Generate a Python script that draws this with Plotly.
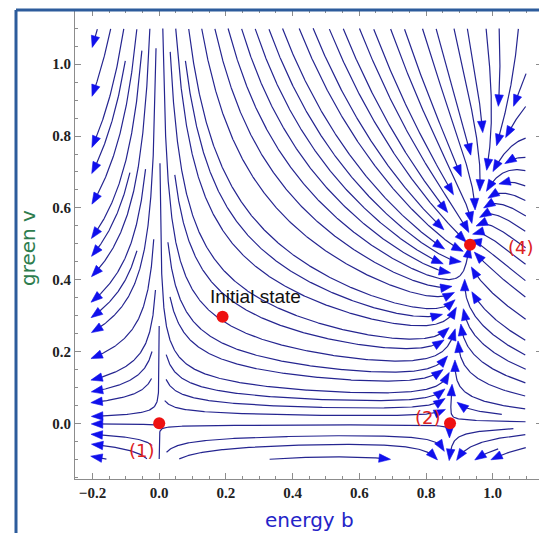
import math
import numpy as np
import plotly.graph_objects as go

# ---------------- data ----------------
b_domain = [-0.2, 1.1]          # extent of the stream field (energy b)
v_domain = [-0.1, 1.1]          # extent of the stream field (green v)
x_range = [-0.2525, 1.1478]
y_range = [-0.155, 1.151]
x_ticks = [-0.2, 0.0, 0.2, 0.4, 0.6, 0.8, 1.0]
y_ticks = [0.0, 0.2, 0.4, 0.6, 0.8, 1.0]

fixed_b = [0.0, 0.872, 0.932]   # equilibria (1), (2), (4)
fixed_v = [0.0, 0.0, 0.497]
fixed_labels = ["(1)", "(2)", "(4)"]
label_b = [-0.052, 0.806, 1.085]
label_v = [-0.077, 0.015, 0.491]

init_b = [0.19]
init_v = [0.297]
init_text = ["Initial state"]
init_label_b = [0.29]
init_label_v = [0.352]

green_nullcline_b0 = 0.6        # where the flow of v turns round on v = 0 (estimated)
green_rate = 0.45               # relative speed of v (estimated from slopes)
energy_nullcline_power = 1.3    # curvature of the energy nullcline (estimated)
energy_damping = 2.0            # slowing of energy at high b (estimated)

# ---------------- vector field built from the equilibria ----------------
K = fixed_b[1]
e_coef = (fixed_b[2] - K) / fixed_v[2] ** energy_nullcline_power
d_coef = green_rate * (fixed_b[2] - green_nullcline_b0) / fixed_v[2]


def field(b, v):
    vp = math.copysign(abs(v) ** energy_nullcline_power, v)
    db = b * (K - b + e_coef * vp) / (1.0 + energy_damping * b * b)
    dv = v * (green_rate * (b - green_nullcline_b0) - d_coef * v)
    return db, dv


# ---------------- evenly spaced streamlines (in screen-like units) ----------------
SX, SY = 333.4, 359.1
DSEP, DTEST, H = 13.0, 7.0, 1.0
X0, X1 = b_domain[0] * SX, b_domain[1] * SX
Y0, Y1 = v_domain[0] * SY, v_domain[1] * SY
FP = [(fb * SX, fv * SY) for fb, fv in zip(fixed_b, fixed_v)]

grid = {}


def key(X, Y):
    return (int((X - X0) // DSEP), int((Y - Y0) // DSEP))


def add_pt(X, Y):
    grid.setdefault(key(X, Y), []).append((X, Y))


def clear(X, Y, dmin):
    i, j = key(X, Y)
    d2 = dmin * dmin
    for di in (-1, 0, 1):
        for dj in (-1, 0, 1):
            for (px, py) in grid.get((i + di, j + dj), ()):
                if (px - X) ** 2 + (py - Y) ** 2 < d2:
                    return False
    return True


def inside(X, Y):
    return X0 <= X <= X1 and Y0 <= Y <= Y1


def near_fp(X, Y, r=3.0):
    for fx, fy in FP:
        if (fx - X) ** 2 + (fy - Y) ** 2 < r * r:
            return True
    return False


def direction(X, Y):
    db, dv = field(X / SX, Y / SY)
    u, w = db * SX, dv * SY
    n = math.hypot(u, w)
    if n < 1e-7:
        return None
    return u / n, w / n


def trace(X, Y, sign):
    pts = []
    for _ in range(4000):
        d1 = direction(X, Y)
        if d1 is None:
            break
        d2 = direction(X + sign * 0.5 * H * d1[0], Y + sign * 0.5 * H * d1[1])
        if d2 is None or d1[0] * d2[0] + d1[1] * d2[1] < 0.3:
            break
        Xn, Yn = X + sign * H * d2[0], Y + sign * H * d2[1]
        if not inside(Xn, Yn) or near_fp(Xn, Yn) or not clear(Xn, Yn, DTEST):
            break
        pts.append((Xn, Yn))
        X, Y = Xn, Yn
    return pts


lines = []


def make_line(X, Y):
    if not inside(X, Y) or near_fp(X, Y, 6.0) or not clear(X, Y, DSEP * 0.98):
        return None
    back = trace(X, Y, -1)
    fwd = trace(X, Y, 1)
    pts = back[::-1] + [(X, Y)] + fwd
    if len(pts) * H < 14:
        return None
    for p in pts:
        add_pt(*p)
    lines.append(pts)
    return pts


queue = []
first = make_line(0.5 * SX, 0.6 * SY)
if first:
    queue.append(first)
qi = 0
while True:
    while qi < len(queue):
        ln = queue[qi]
        qi += 1
        for k in range(1, len(ln) - 1, 2):
            dx = ln[k + 1][0] - ln[k - 1][0]
            dy = ln[k + 1][1] - ln[k - 1][1]
            n = math.hypot(dx, dy)
            if n == 0:
                continue
            nx, ny = -dy / n, dx / n
            for s in (1, -1):
                new = make_line(ln[k][0] + s * DSEP * nx, ln[k][1] + s * DSEP * ny)
                if new:
                    queue.append(new)
    added = False
    for gx in np.arange(X0 + 2, X1, DSEP / 2):
        for gy in np.arange(Y0 + 2, Y1, DSEP / 2):
            new = make_line(gx, gy)
            if new:
                queue.append(new)
                added = True
                break
        if added:
            break
    if not added:
        break

# polylines and arrowheads (converted back to data units)
lx, ly, ax, ay = [], [], [], []
AL, AW = 11.5, 8.5
for pts in lines:
    for (X, Y) in pts:
        lx.append(X / SX)
        ly.append(Y / SY)
    lx.append(None)
    ly.append(None)
    ex, ey = pts[-1]
    px, py = pts[max(0, len(pts) - 4)]
    tx, ty = ex - px, ey - py
    n = math.hypot(tx, ty)
    if n == 0:
        continue
    tx, ty = tx / n, ty / n
    tipx, tipy = ex + tx * 2, ey + ty * 2
    bx, by = tipx - tx * AL, tipy - ty * AL
    nx, ny = -ty, tx
    tri = [(tipx, tipy), (bx + nx * AW / 2, by + ny * AW / 2), (bx - nx * AW / 2, by - ny * AW / 2), (tipx, tipy)]
    for (X, Y) in tri:
        ax.append(X / SX)
        ay.append(Y / SY)
    ax.append(None)
    ay.append(None)

fig = go.Figure()
fig.add_trace(go.Scatter(x=lx, y=ly, mode="lines", line=dict(color="#252590", width=1.2),
                         hoverinfo="skip", showlegend=False))
fig.add_trace(go.Scatter(x=ax, y=ay, mode="lines", fill="toself", fillcolor="#1010ec",
                         line=dict(color="#1010ec", width=0.6), hoverinfo="skip", showlegend=False))
fig.add_trace(go.Scatter(x=fixed_b + init_b, y=fixed_v + init_v, mode="markers",
                         marker=dict(color="#ee1111", size=12), hoverinfo="skip", showlegend=False))

annotations = []
for t, bx_, vy_ in zip(fixed_labels, label_b, label_v):
    annotations.append(dict(x=bx_, y=vy_, xref="x", yref="y", text=t, showarrow=False,
                            xanchor="center", yanchor="middle",
                            font=dict(family="DejaVu Sans", size=18, color="#dd2222")))
for t, bx_, vy_ in zip(init_text, init_label_b, init_label_v):
    annotations.append(dict(x=bx_, y=vy_, xref="x", yref="y", text=t, showarrow=False,
                            xanchor="center", yanchor="middle",
                            font=dict(family="Liberation Sans", size=19, color="#111111")))

# layout geometry: the page body adds an 8 px offset, so the figure is 8 px smaller
OFF = 8
W, Hh = 547 - OFF, 533 - OFF
ml, mr, mt, mb = 75 - OFF, W - (542 - OFF), 10 - OFF, Hh - (479 - OFF)
pw, ph = W - ml - mr, Hh - mt - mb


def px2paper(px, py):
    # px, py are window pixels of the reference picture
    return (px - OFF - ml) / pw, (Hh - mb - (py - OFF)) / ph


tx_, ty_ = px2paper(309, 520)
annotations.append(dict(x=tx_, y=ty_, xref="paper", yref="paper", text="energy b", showarrow=False,
                        xanchor="center", yanchor="middle",
                        font=dict(family="DejaVu Sans", size=20, color="#2424c8")))
gx_, gy_ = px2paper(28, 248)
annotations.append(dict(x=gx_, y=gy_, xref="paper", yref="paper", text="green v", showarrow=False,
                        xanchor="center", yanchor="middle",
                        textangle=-90, font=dict(family="DejaVu Sans", size=20, color="#2e7d4e")))

bl, _ = px2paper(16, 0)
br, _ = px2paper(542, 0)
_, btop = px2paper(0, 10)
_, bbot = px2paper(0, 540)
border = dict(color="#2d5c9c", width=3)
shapes = [
    dict(type="line", xref="paper", yref="paper", x0=bl, x1=bl, y0=bbot, y1=btop, line=border),
    dict(type="line", xref="paper", yref="paper", x0=bl, x1=br, y0=btop, y1=btop, line=border),
    dict(type="line", xref="paper", yref="paper", x0=br, x1=br, y0=btop, y1=bbot, line=border),
]

axis_common = dict(showgrid=False, zeroline=False, showline=True, linecolor="#8c8c8c", linewidth=1,
                   mirror="ticks", ticks="inside", ticklen=6, tickcolor="#8c8c8c", tickformat=".1f",
                   tickfont=dict(family="Liberation Serif", size=15, color="#222222", weight="bold"),
                   minor=dict(ticks="inside", dtick=0.05, ticklen=3, tickcolor="#8c8c8c", showgrid=False))
fig.update_layout(
    width=W, height=Hh, margin=dict(l=ml, r=mr, t=mt, b=mb),
    paper_bgcolor="white", plot_bgcolor="white", showlegend=False,
    xaxis=dict(range=x_range, tickvals=x_ticks, **axis_common),
    yaxis=dict(range=y_range, tickvals=y_ticks, **axis_common),
    annotations=annotations, shapes=shapes,
)
fig.write_html("out.html")
